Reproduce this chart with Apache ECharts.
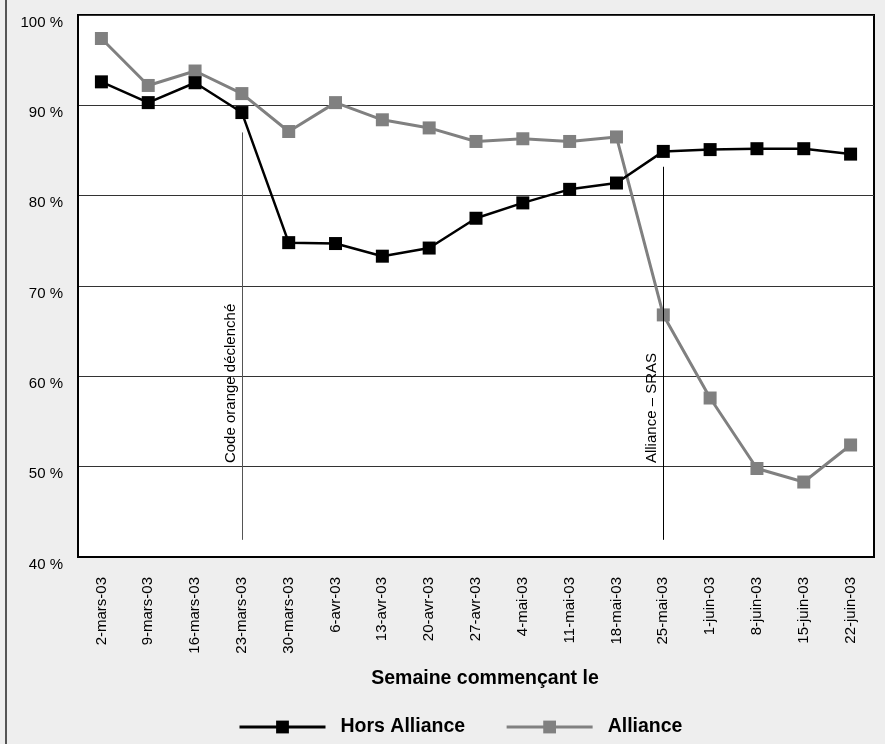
<!DOCTYPE html>
<html>
<head>
<meta charset="utf-8">
<script src="https://cdn.jsdelivr.net/npm/echarts@6/dist/echarts.min.js"></script>
<style>
  html, body { margin: 0; padding: 0; background: #eeeeee; }
  #chart { width: 885px; height: 744px; }
</style>
</head>
<body>
<div id="chart"></div>
<script>
// Weekly share (%) by week start date
const weeks = ['2-mars-03', '9-mars-03', '16-mars-03', '23-mars-03', '30-mars-03', '6-avr-03',
  '13-avr-03', '20-avr-03', '27-avr-03', '4-mai-03', '11-mai-03', '18-mai-03', '25-mai-03',
  '1-juin-03', '8-juin-03', '15-juin-03', '22-juin-03'];
const horsAlliance = [92.6, 90.3, 92.5, 89.2, 74.8, 74.7, 73.3, 74.2, 77.5, 79.2, 80.7, 81.4,
  84.9, 85.1, 85.2, 85.2, 84.6];
const alliance = [97.4, 92.2, 93.8, 91.3, 87.1, 90.3, 88.4, 87.5, 86.0, 86.3, 86.0, 86.5,
  66.8, 57.6, 49.8, 48.3, 52.4];

// Event markers: week, line top value, line bottom value, label
const eventWeeks = ['23-mars-03', '25-mai-03'];
const eventTops = [87.0, 83.2];
const eventBottom = 41.9;
const eventLabels = ['Code orange déclenché', 'Alliance – SRAS'];
const eventColors = ['#555555', '#000000'];
const eventLabelBase = 50.4;

const yMin = 40, yMax = 100, yStep = 10;
const axisTitle = 'Semaine commençant le';

const FONT = '"Liberation Sans", Arial, sans-serif';

const chart = echarts.init(document.getElementById('chart'));

const markLineData = eventWeeks.map((w, i) => [
  { coord: [w, eventTops[i]], lineStyle: { color: eventColors[i], width: 1, type: 'solid' } },
  { coord: [w, eventBottom] }
]);

chart.setOption({
  backgroundColor: '#eeeeee',
  animation: false,
  grid: {
    left: 78, right: 11, top: 15, bottom: 187,
    show: true, backgroundColor: '#ffffff', borderColor: '#000000', borderWidth: 2
  },
  legend: {
    left: 233, top: 712,
    itemWidth: 86, itemHeight: 16, itemGap: 40,
    lineStyle: { width: 3 },
    textStyle: { fontFamily: FONT, fontWeight: 'bold', fontSize: 19.5, color: '#000', padding: [0, 0, 0, 10] },
    data: ['Hors Alliance', 'Alliance']
  },
  xAxis: {
    type: 'category',
    data: weeks,
    boundaryGap: true,
    axisLine: { lineStyle: { color: '#000', width: 2 } },
    axisTick: { inside: true, length: 12, lineStyle: { color: '#000', width: 2 } },
    axisLabel: { rotate: 90, margin: 20, fontFamily: FONT, fontSize: 15, color: '#000', interval: 0 },
    splitLine: { show: false }
  },
  yAxis: {
    type: 'value',
    min: yMin, max: yMax, interval: yStep,
    axisLine: { show: true, lineStyle: { color: '#000', width: 2 } },
    axisTick: { show: false },
    axisLabel: { formatter: '{value} %', margin: 15, fontFamily: FONT, fontSize: 15, color: '#000', verticalAlign: 'top' },
    splitLine: { show: true, lineStyle: { color: '#333', width: 1 } }
  },
  series: [
    {
      name: 'Hors Alliance', type: 'line', data: horsAlliance,
      symbol: 'rect', symbolSize: 13,
      itemStyle: { color: '#000000' },
      lineStyle: { color: '#000000', width: 2.5 },
      z: 3,
      markLine: {
        silent: true, symbol: 'none', label: { show: false },
        data: markLineData
      }
    },
    {
      name: 'Alliance', type: 'line', data: alliance,
      symbol: 'rect', symbolSize: 13,
      itemStyle: { color: '#808080' },
      lineStyle: { color: '#808080', width: 3 },
      z: 2
    }
  ]
});

// Rotated event labels, axis title and outer frame line
const graphics = eventWeeks.map((w, i) => {
  const p = chart.convertToPixel({ gridIndex: 0 }, [w, eventLabelBase]);
  return {
    type: 'text', x: p[0] - 4, y: p[1], rotation: Math.PI / 2,
    style: { text: eventLabels[i], font: '15px ' + FONT, fill: '#000', align: 'left', verticalAlign: 'bottom' },
    z: 10
  };
});
graphics.push({
  type: 'text', x: 485, y: 679,
  style: { text: axisTitle, font: 'bold 19.5px ' + FONT, fill: '#000', align: 'center', verticalAlign: 'middle' }
});
graphics.push({
  type: 'line', shape: { x1: 6, y1: 0, x2: 6, y2: 744 },
  style: { stroke: '#555555', lineWidth: 2 }
});
chart.setOption({ graphic: graphics });
</script>
</body>
</html>
